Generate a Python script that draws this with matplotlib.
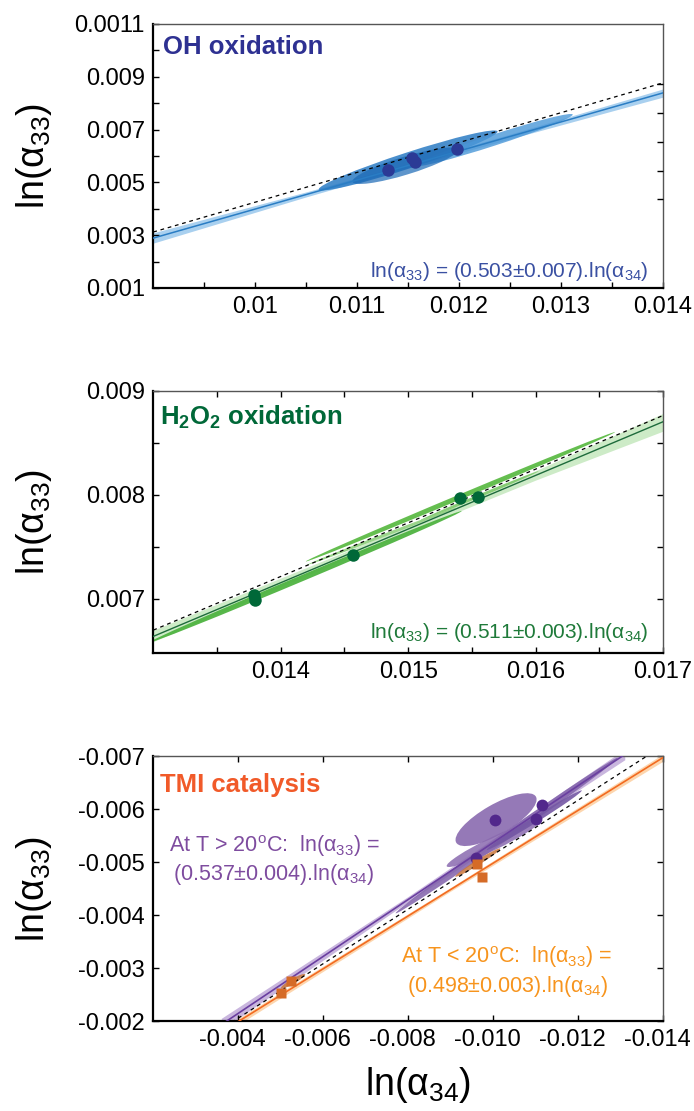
import matplotlib
matplotlib.use("Agg")
import matplotlib.pyplot as plt
import matplotlib.transforms as transforms
from matplotlib.patches import Ellipse

plt.rcParams['font.family'] = ['Liberation Sans', 'DejaVu Sans']
plt.rcParams['mathtext.fontset'] = 'custom'
plt.rcParams['mathtext.rm'] = 'Liberation Sans'
plt.rcParams['mathtext.it'] = 'Liberation Sans:italic'
plt.rcParams['mathtext.bf'] = 'Liberation Sans:bold'
plt.rcParams['mathtext.default'] = 'regular'

# ---- OH oxidation ----
oh_x = [0.01130, 0.01154, 0.01157, 0.01198]
oh_y = [0.00546, 0.00592, 0.00576, 0.00628]
oh_fit_x = [0.009, 0.014]
oh_fit_y = [0.00289, 0.00839]
oh_ref_y = [0.00312, 0.00877]
oh_band_x = [0.009, 0.0105, 0.0115, 0.0125, 0.014]
oh_band_lo = [0.00270, 0.00445, 0.00557, 0.00665, 0.00823]
oh_band_hi = [0.00309, 0.00464, 0.00571, 0.00683, 0.00854]
# error ellipses: centre (data), length / thickness (px), angle (deg)
oh_ell_x = [0.01150, 0.01234, 0.01147]
oh_ell_y = [0.00583, 0.00660, 0.00563]
oh_ell_w = [188, 166, 110]
oh_ell_h = [16, 11, 18]
oh_ell_a = [18, 18, 17]

# ---- H2O2 oxidation ----
h2_x = [0.01379, 0.01380, 0.01457, 0.01541, 0.01555]
h2_y = [0.00704, 0.00699, 0.00742, 0.00797, 0.00798]
h2_fit_x = [0.013, 0.017]
h2_fit_y = [0.00664, 0.00870]
h2_ref_y = [0.00670, 0.00876]
h2_band_x = [0.013, 0.014, 0.015, 0.016, 0.017]
h2_band_lo = [0.00659, 0.00712, 0.00764, 0.00814, 0.00861]
h2_band_hi = [0.00670, 0.00720, 0.00770, 0.00823, 0.00878]
h2_ell_x = [0.01541, 0.01419, 0.01556, 0.01479]
h2_ell_y = [0.00798, 0.00721, 0.00799, 0.00760]
h2_ell_w = [335, 340, 128, 160]
h2_ell_h = [5, 6, 3, 3]
h2_ell_a = [22.7, 22.8, 22.5, 21]

# ---- TMI catalysis ----
hot_x = [-0.01005, -0.01116, -0.01100, -0.00959]
hot_y = [-0.00579, -0.00607, -0.00581, -0.00508]
cold_x = [-0.00963, -0.00973, -0.00525, -0.00501]
cold_y = [-0.00497, -0.00472, -0.00276, -0.00252]
hot_fit_x = [-0.0036, -0.0131]
hot_fit_y = [-0.00193, -0.00703]
cold_fit_x = [-0.0039, -0.0142]
cold_fit_y = [-0.00194, -0.00707]
tmi_ref_x = [-0.0037, -0.0137]
tmi_ref_y = [-0.00190, -0.00704]
hot_band_x = [-0.0036, -0.008, -0.0131]
hot_band_lo = [-0.00205, -0.00435, -0.00713]
hot_band_hi = [-0.00183, -0.00425, -0.00693]
cold_band_x = [-0.0039, -0.009, -0.0142]
cold_band_lo = [-0.00200, -0.00452, -0.00714]
cold_band_hi = [-0.00188, -0.00445, -0.00700]
hot_ell_x = [-0.01007, -0.01032, -0.01001, -0.01097]
hot_ell_y = [-0.00580, -0.00550, -0.00535, -0.00579]
hot_ell_w = [92, 271, 104, 112]
hot_ell_h = [30, 8, 13, 6]
hot_ell_a = [30, 35, 26, 32]
cold_ell_x = [-0.00964, -0.00529]
cold_ell_y = [-0.00499, -0.00275]
cold_ell_w = [53, 28]
cold_ell_h = [5, 5]
cold_ell_a = [32, 30]

fig = plt.figure(figsize=(6.94, 11.11), dpi=100)
ax1 = fig.add_axes([0.2209, 0.7408, 0.7344, 0.2376])
ax2 = fig.add_axes([0.2209, 0.4122, 0.7344, 0.2363])
ax3 = fig.add_axes([0.2209, 0.0810, 0.7344, 0.2385])


def ellipses(ax, xs, ys, ws, hs, angs, colors, alphas):
    for x, y, w, h, a, c, al in zip(xs, ys, ws, hs, angs, colors, alphas):
        tr = fig.dpi_scale_trans + transforms.ScaledTranslation(x, y, ax.transData)
        e = Ellipse((0, 0), w / 100, h / 100, angle=a, transform=tr,
                    facecolor=c, edgecolor='none', alpha=al, zorder=2)
        ax.add_patch(e)


def style(ax):
    for s in ['left', 'bottom']:
        ax.spines[s].set_linewidth(1.6)
    for s in ['top', 'right']:
        ax.spines[s].set_linewidth(1.0)
        ax.spines[s].set_color('#555555')
    ax.tick_params(which='both', direction='in', length=4, width=1,
                   labelsize=17, pad=6)
    ax.set_ylabel(r'ln(α$_{33}$)', fontsize=27)
    ax.yaxis.set_label_coords(-0.195, 0.5)


dash = (0, (3, 3))

# OH panel
ax1.fill_between(oh_band_x, oh_band_lo, oh_band_hi, color='#A9D0EF', lw=0, zorder=1)
ellipses(ax1, oh_ell_x, oh_ell_y, oh_ell_w, oh_ell_h, oh_ell_a,
         ['#2B7BC4', '#4A97D8', '#1A68B5'], [0.85, 0.8, 0.7])
ax1.plot(oh_fit_x, oh_ref_y, color='black', lw=0.9, ls=dash, zorder=3)
ax1.plot(oh_fit_x, oh_fit_y, color='#2A7DC4', lw=1.1, zorder=3)
ax1.plot(oh_x, oh_y, 'o', color='#2B3A96', ms=9, mec='none', zorder=4)
ax1.set_xlim(0.009, 0.014)
ax1.set_ylim(0.001, 0.011)
ax1.set_xticks([0.010, 0.011, 0.012, 0.013, 0.014])
ax1.set_xticklabels(['0.01', '0.011', '0.012', '0.013', '0.014'])
ax1.set_xticks([0.0095, 0.0105, 0.0115, 0.0125, 0.0135], minor=True)
ax1.set_yticks([0.001, 0.003, 0.005, 0.007, 0.009, 0.011])
ax1.set_yticklabels(['0.001', '0.003', '0.005', '0.007', '0.009', '0.0011'])
ax1.set_yticks([0.002, 0.004, 0.006, 0.008, 0.010], minor=True)
style(ax1)
ax1.tick_params(which='both', top=False, right=False)
tw = ax1.twinx()
tw.set_ylim(0.001, 0.011)
tw.set_yticks([0.00437, 0.00545, 0.00652, 0.00762, 0.00874])
tw.set_yticklabels([])
tw.tick_params(direction='in', length=4, width=1)
for s in tw.spines.values():
    s.set_visible(False)
ax1.text(0.020, 0.885, 'OH oxidation', transform=ax1.transAxes, fontsize=18.5,
         fontweight='bold', color='#2E3192', va='baseline', ha='left')
ax1.text(0.971, 0.043, r'ln(α$_{33}$) = (0.503±0.007).ln(α$_{34}$)',
         transform=ax1.transAxes, fontsize=15, color='#3A50A2',
         va='baseline', ha='right')

# H2O2 panel
ax2.fill_between(h2_band_x, h2_band_lo, h2_band_hi, color='#CDEBC7', lw=0, zorder=1)
ellipses(ax2, h2_ell_x, h2_ell_y, h2_ell_w, h2_ell_h, h2_ell_a,
         ['#5DBB46', '#4FB341', '#7CC86A', '#8FD07E'], [0.95, 0.95, 0.9, 0.9])
ax2.plot(h2_fit_x, h2_ref_y, color='black', lw=0.9, ls=dash, zorder=3)
ax2.plot(h2_fit_x, h2_fit_y, color='#1D6B3B', lw=1.0, zorder=3)
ax2.plot(h2_x, h2_y, 'o', color='#006838', ms=9, mec='none', zorder=4)
ax2.set_xlim(0.013, 0.017)
ax2.set_ylim(0.00648, 0.009)
ax2.set_xticks([0.014, 0.015, 0.016, 0.017])
ax2.set_xticklabels(['0.014', '0.015', '0.016', '0.017'])
ax2.set_xticks([0.0135, 0.0145, 0.0155, 0.0165], minor=True)
ax2.set_yticks([0.007, 0.008, 0.009])
ax2.set_yticklabels(['0.007', '0.008', '0.009'])
ax2.set_yticks([0.0075, 0.0085], minor=True)
style(ax2)
ax2.tick_params(which='both', top=True, right=True)
ax2.text(0.014, 0.869, r'H$_\mathbf{2}$O$_\mathbf{2}$ oxidation', transform=ax2.transAxes,
         fontsize=18.5, fontweight='bold', color='#006838', va='baseline', ha='left')
ax2.text(0.971, 0.056, r'ln(α$_{33}$) = (0.511±0.003).ln(α$_{34}$)',
         transform=ax2.transAxes, fontsize=15, color='#1F7A3A',
         va='baseline', ha='right')

# TMI panel
ax3.fill_between(hot_band_x, hot_band_lo, hot_band_hi, color='#C9B6DE', lw=0, zorder=1)
ax3.fill_between(cold_band_x, cold_band_lo, cold_band_hi, color='#FDD6AE', lw=0, zorder=1)
ellipses(ax3, hot_ell_x, hot_ell_y, hot_ell_w, hot_ell_h, hot_ell_a,
         ['#8A6AAF', '#8061AA', '#8A6AAF', '#7457A4'], [0.9, 0.85, 0.85, 0.9])
ellipses(ax3, cold_ell_x, cold_ell_y, cold_ell_w, cold_ell_h, cold_ell_a,
         ['#C9763A', '#C9763A'], [0.85, 0.85])
ax3.plot(tmi_ref_x, tmi_ref_y, color='black', lw=0.9, ls=dash, zorder=3)
ax3.plot(hot_fit_x, hot_fit_y, color='#6A3FA0', lw=1.2, zorder=3)
ax3.plot(cold_fit_x, cold_fit_y, color='#F26B21', lw=1.2, zorder=3)
ax3.plot(hot_x, hot_y, 'o', color='#52288C', ms=8.5, mec='none', zorder=4)
ax3.plot(cold_x, cold_y, 's', color='#D56B27', ms=6.5, mec='none', zorder=5)
ax3.set_xlim(-0.002, -0.014)
ax3.set_ylim(-0.002, -0.007)
ax3.set_xticks([-0.004, -0.006, -0.008, -0.010, -0.012, -0.014])
ax3.set_xticklabels(['-0.004', '-0.006', '-0.008', '-0.010', '-0.012', '-0.014'])
ax3.set_yticks([-0.002, -0.003, -0.004, -0.005, -0.006, -0.007])
ax3.set_yticklabels(['-0.002', '-0.003', '-0.004', '-0.005', '-0.006', '-0.007'])
style(ax3)
ax3.tick_params(which='both', top=True, right=True)
shift = transforms.ScaledTranslation(-0.06, 0, fig.dpi_scale_trans)
for lab in ax3.get_xticklabels():
    lab.set_transform(lab.get_transform() + shift)
ax3.text(0.014, 0.865, 'TMI catalysis', transform=ax3.transAxes, fontsize=18.5,
         fontweight='bold', color='#F15A29', va='baseline', ha='left')
ax3.text(0.031, 0.639, r'At T > 20$^{o}$C:  ln(α$_{33}$) =', transform=ax3.transAxes,
         fontsize=15.5, color='#7E4C9F', va='baseline', ha='left')
ax3.text(0.038, 0.532, r'(0.537±0.004).ln(α$_{34}$)', transform=ax3.transAxes,
         fontsize=15.5, color='#7E4C9F', va='baseline', ha='left')
ax3.text(0.486, 0.218, r'At T < 20$^{o}$C:  ln(α$_{33}$) =', transform=ax3.transAxes,
         fontsize=15.5, color='#F7941D', va='baseline', ha='left')
ax3.text(0.497, 0.111, r'(0.498±0.003).ln(α$_{34}$)', transform=ax3.transAxes,
         fontsize=15.5, color='#F7941D', va='baseline', ha='left')
ax3.set_xlabel(r'ln(α$_{34}$)', fontsize=27)
ax3.xaxis.set_label_coords(0.52, -0.165)

fig.savefig('out.png', dpi=100)
